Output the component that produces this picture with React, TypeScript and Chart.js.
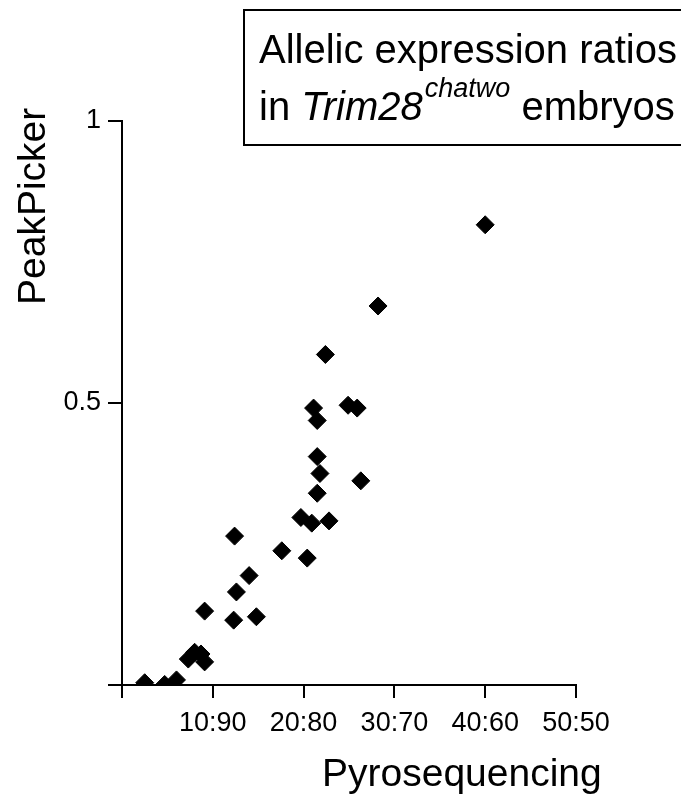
import React, { useEffect, useRef } from "react";
import { Chart, registerables } from "chart.js";

Chart.register(...registerables);

// Pyrosequencing allelic ratio (% minor allele)
const pyroValues: number[] = [
  2.5, 4.7, 6.0, 7.3, 8.0, 8.7, 9.1, 9.1, 12.4, 12.3, 12.6, 14.0, 14.8, 17.6,
  20.4, 19.7, 20.9, 22.8, 21.5, 21.8, 21.5, 26.3, 21.1, 21.5, 24.9, 25.9, 22.4,
  28.2, 40.0,
];
// PeakPicker ratio
const peakValues: number[] = [
  0.004, 0.001, 0.009, 0.046, 0.058, 0.055, 0.041, 0.131, 0.264, 0.115, 0.165,
  0.194, 0.121, 0.238, 0.225, 0.297, 0.287, 0.291, 0.34, 0.375, 0.405, 0.362,
  0.491, 0.469, 0.496, 0.491, 0.586, 0.672, 0.816,
];

const xTickValues: number[] = [0, 10, 20, 30, 40, 50];
const xTickLabels: string[] = ["", "10:90", "20:80", "30:70", "40:60", "50:50"];
const yTickValues: number[] = [0, 0.5, 1];
const yTickLabels: string[] = ["", "0.5", "1"];

const xTitle = "Pyrosequencing";
const yTitle = "PeakPicker";
const boxLine1 = "Allelic expression ratios";
const boxLine2Parts = ["in ", "Trim28", "chatwo", " embryos"];

const FONT = '"Liberation Sans", Arial, Helvetica, sans-serif';

const annotations = {
  id: "annotations",
  afterDraw(chart: any) {
    const ctx: CanvasRenderingContext2D = chart.ctx;
    ctx.save();
    ctx.fillStyle = "#000";
    ctx.strokeStyle = "#000";
    ctx.textBaseline = "alphabetic";
    ctx.textAlign = "left";

    // y title
    ctx.save();
    ctx.translate(45, 305);
    ctx.rotate(-Math.PI / 2);
    ctx.font = `39px ${FONT}`;
    ctx.fillText(yTitle, 0, 0);
    ctx.restore();

    // x title
    ctx.font = `39px ${FONT}`;
    ctx.fillText(xTitle, 322, 786);

    // box
    ctx.lineWidth = 2;
    ctx.strokeRect(244, 10, 480, 135);

    ctx.font = `40px ${FONT}`;
    ctx.fillText(boxLine1, 259, 63);

    let x = 259;
    const base = 120;
    ctx.font = `40px ${FONT}`;
    ctx.fillText(boxLine2Parts[0], x, base);
    x += ctx.measureText(boxLine2Parts[0]).width;
    ctx.font = `italic 40px ${FONT}`;
    ctx.fillText(boxLine2Parts[1], x, base);
    x += ctx.measureText(boxLine2Parts[1]).width + 2;
    ctx.font = `italic 27px ${FONT}`;
    ctx.fillText(boxLine2Parts[2], x, base - 23);
    x += ctx.measureText(boxLine2Parts[2]).width;
    ctx.font = `40px ${FONT}`;
    ctx.fillText(boxLine2Parts[3], x, base);

    ctx.restore();
  },
};

export default function App() {
  const canvasRef = useRef<HTMLCanvasElement | null>(null);

  useEffect(() => {
    document.body.style.margin = "0";
    const canvas = canvasRef.current;
    if (!canvas) return;
    const points = pyroValues.map((v, i) => ({ x: v, y: peakValues[i] }));
    const chart = new Chart(canvas, {
      type: "scatter",
      data: {
        datasets: [
          {
            data: points,
            pointStyle: "rectRot",
            pointRadius: 9,
            pointBorderWidth: 1,
            backgroundColor: "#000",
            borderColor: "#000",
          },
        ],
      },
      options: {
        responsive: false,
        animation: false,
        events: [],
        layout: { padding: { left: 0, right: 105, top: 121, bottom: 0 } },
        plugins: {
          legend: { display: false },
          tooltip: { enabled: false },
          title: { display: false },
        },
        scales: {
          x: {
            type: "linear",
            min: 0,
            max: 50,
            afterBuildTicks: (s: any) => {
              s.ticks = xTickValues.map((v) => ({ value: v }));
            },
            afterFit: (s: any) => {
              s.height = 110;
            },
            ticks: {
              autoSkip: false,
              maxRotation: 0,
              padding: 9,
              color: "#000",
              font: { family: FONT, size: 27 },
              callback: (v: any) => {
                const i = xTickValues.indexOf(Number(v));
                return i >= 0 ? xTickLabels[i] : "";
              },
            },
            grid: {
              drawOnChartArea: false,
              drawTicks: true,
              tickLength: 13,
              color: "#000",
              lineWidth: 2,
            },
            border: { color: "#000", width: 2 },
          },
          y: {
            type: "linear",
            min: 0,
            max: 1,
            afterBuildTicks: (s: any) => {
              s.ticks = yTickValues.map((v) => ({ value: v }));
            },
            afterFit: (s: any) => {
              s.width = 122;
            },
            ticks: {
              autoSkip: false,
              padding: 7,
              color: "#000",
              font: { family: FONT, size: 27 },
              callback: (v: any) => {
                const i = yTickValues.indexOf(Number(v));
                return i >= 0 ? yTickLabels[i] : "";
              },
            },
            grid: {
              drawOnChartArea: false,
              drawTicks: true,
              tickLength: 14,
              color: "#000",
              lineWidth: 2,
            },
            border: { color: "#000", width: 2 },
          },
        },
      },
      plugins: [annotations],
    });
    return () => chart.destroy();
  }, []);

  return (
    <canvas
      ref={canvasRef}
      width={681}
      height={795}
      style={{ display: "block", width: 681, height: 795 }}
    />
  );
}
